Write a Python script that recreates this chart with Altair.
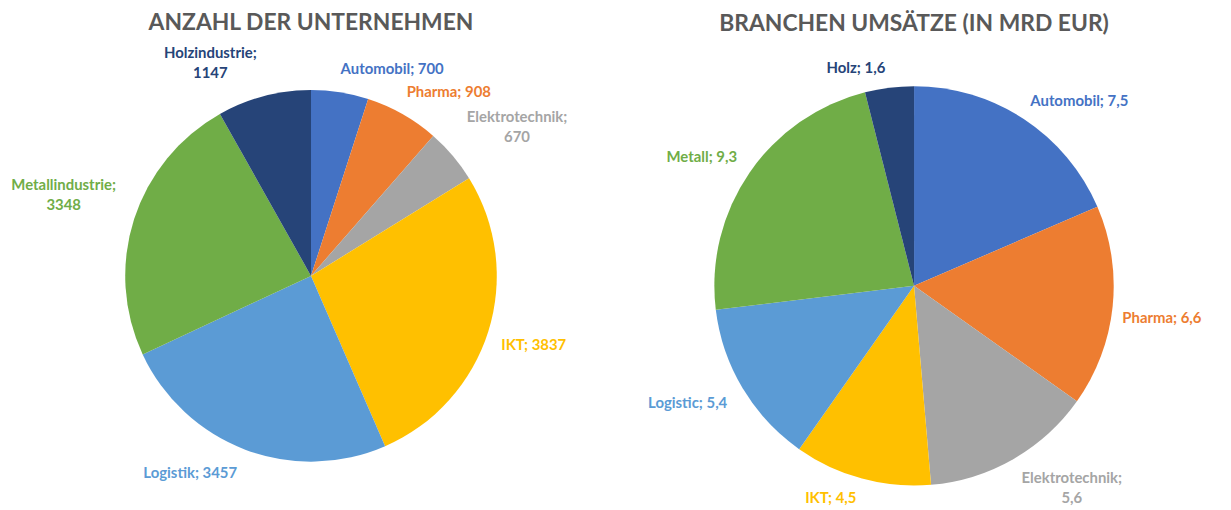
import altair as alt
import pandas as pd

# ---- data ----
sectors = ["Automobil", "Pharma", "Elektrotechnik", "IKT", "Logistik", "Metall", "Holz"]
colors = ["#4472C4", "#ED7D31", "#A5A5A5", "#FFC000", "#5B9BD5", "#70AD47", "#264478"]

left_names = ["Automobil", "Pharma", "Elektrotechnik", "IKT", "Logistik", "Metallindustrie", "Holzindustrie"]
left_values = [700, 908, 670, 3837, 3457, 3348, 1147]

right_names = ["Automobil", "Pharma", "Elektrotechnik", "IKT", "Logistic", "Metall", "Holz"]
right_values = [7.5, 6.6, 5.6, 4.5, 5.4, 9.3, 1.6]

titles = ["ANZAHL DER UNTERNEHMEN", "BRANCHEN UMSÄTZE (IN MRD EUR)"]


def fmt(v):
    return f"{v:g}".replace(".", ",")


def make_label(name, v):
    return f"{name};\n{fmt(v)}" if len(name) > 12 else f"{name}; {fmt(v)}"


def frame(names, values):
    return pd.DataFrame({
        "sector": sectors,
        "name": names,
        "value": values,
        "order": list(range(len(values))),
        "label": [make_label(n, v) for n, v in zip(names, values)],
    })


df_left = frame(left_names, left_values)
df_right = frame(right_names, right_values)

FONT = "Lato"
LABEL_SIZE = 15
LINE_H = 20
CHAR_W = 7.2
color = alt.Color("sector:N", scale=alt.Scale(domain=sectors, range=colors), legend=None)


def pie(df, cx, cy, r, gap):
    arc = alt.Chart(df).mark_arc(outerRadius=r).encode(
        theta=alt.Theta("value:Q", stack=True),
        order=alt.Order("order:Q"),
        color=color,
        x=alt.value(cx),
        y=alt.value(cy),
    )
    # Excel-like "outside end" labels: an anchor point just outside the slice middle,
    # with the label box's nearest corner touching that anchor.
    ra = r + gap
    txt = alt.Chart(df).transform_joinaggregate(
        total="sum(value)"
    ).transform_window(
        cum="sum(value)", sort=[alt.SortField("order")], frame=[None, 0]
    ).transform_calculate(
        mid="(datum.cum - datum.value / 2) / datum.total * 2 * PI",
        n="length(split(datum.label, '\\n'))",
        a=f"max(length(split(datum.label, '\\n')[0]), length(peek(split(datum.label, '\\n')))) * {CHAR_W} / 2",
    ).transform_calculate(
        b=f"datum.n * {LINE_H} / 2",
        ux="sin(datum.mid)",
        uy="-cos(datum.mid)",
    ).transform_calculate(
        px=f"{cx} + {ra} * datum.ux + (datum.ux >= 0 ? 1 : -1) * datum.a",
        # first line's middle: block centre minus half of the extra lines
        py=f"{cy} + {ra} * datum.uy + (datum.uy >= 0 ? 1 : -1) * datum.b - (datum.n - 1) * {LINE_H} / 2",
    ).mark_text(
        font=FONT, fontSize=LABEL_SIZE, fontWeight="bold",
        lineBreak="\n", lineHeight=LINE_H, align="center", baseline="middle",
    ).encode(
        text="label:N",
        x=alt.X("px:Q", scale=None),
        y=alt.Y("py:Q", scale=None),
        color=color,
    )
    return arc, txt


arcL, txtL = pie(df_left, 305, 268, 187, 14)
arcR, txtR = pie(df_right, 912, 278, 201, 10)


def title(t, cx, cy):
    return alt.Chart(pd.DataFrame({"t": [t]})).mark_text(
        font=FONT, fontSize=23, fontWeight="bold", color="#595959",
        align="center", baseline="middle",
    ).encode(text="t:N", x=alt.value(cx), y=alt.value(cy))


chart = alt.layer(
    arcL, txtL, arcR, txtR,
    title(titles[0], 305, 13),
    title(titles[1], 912, 15),
).resolve_scale(theta="independent").properties(
    width=1223, height=502, autosize="none", padding=0,
).configure_view(stroke=None)

chart.save("out.html", embed_options={"renderer": "svg", "actions": False})
